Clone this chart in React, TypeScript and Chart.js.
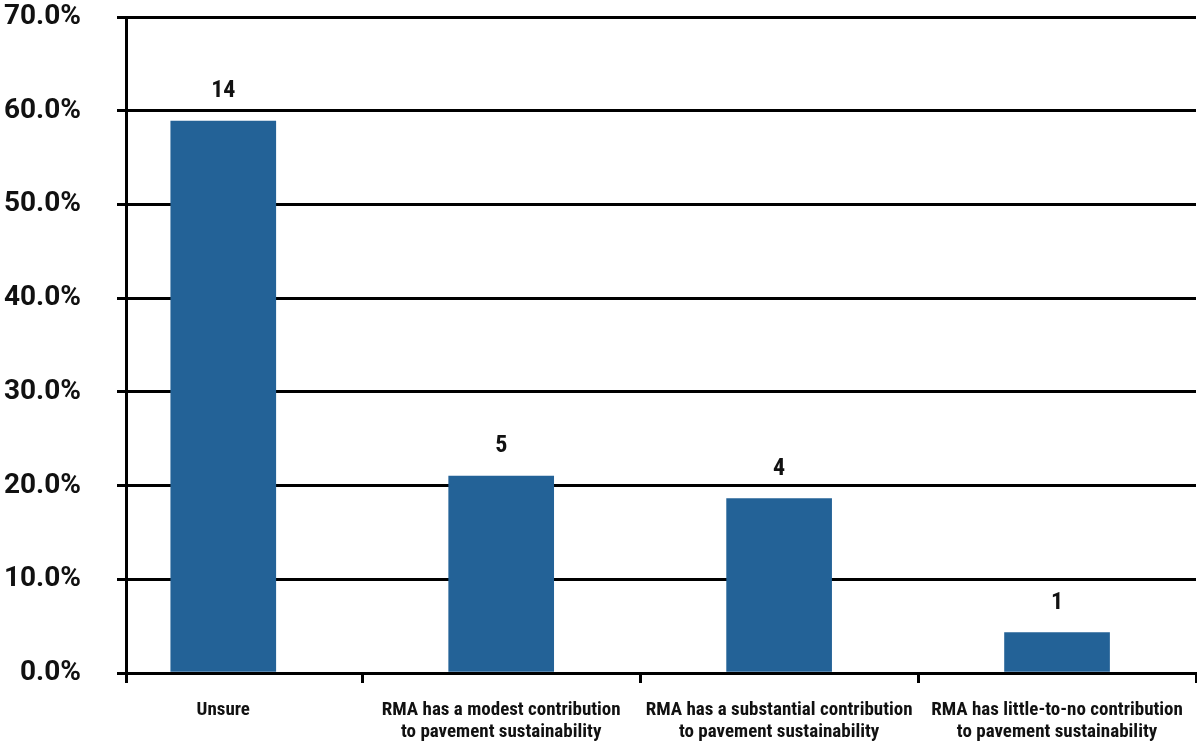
import React, { useEffect, useRef } from "react";
import { Chart, registerables } from "chart.js";

Chart.register(...registerables);

const categories: (string | string[])[] = [
  "Unsure",
  ["RMA has a modest contribution", "to pavement sustainability"],
  ["RMA has a substantial contribution", "to pavement sustainability"],
  ["RMA has little-to-no contribution", "to pavement sustainability"],
];
const percentValues = [58.9, 21.0, 18.6, 4.3];
const responseCounts = [14, 5, 4, 1];
const yTickValues = [0, 10, 20, 30, 40, 50, 60, 70];

const FONT = "'Roboto Condensed', 'Liberation Sans Narrow', Roboto, sans-serif";
const Y_FONT = "Roboto, sans-serif";
const BAR_COLOR = "#236297";

const countLabels = {
  id: "countLabels",
  afterDatasetsDraw(chart: any) {
    const ctx = chart.ctx;
    const meta = chart.getDatasetMeta(0);
    ctx.save();
    ctx.font = `bold 24px ${FONT}`;
    ctx.fillStyle = "#111";
    ctx.textAlign = "center";
    ctx.textBaseline = "alphabetic";
    meta.data.forEach((bar: any, i: number) => {
      ctx.fillText(String(responseCounts[i]), bar.x, bar.y - 24);
    });
    ctx.restore();
  },
};

export default function App() {
  const canvasRef = useRef<HTMLCanvasElement | null>(null);

  useEffect(() => {
    if (!canvasRef.current) return;
    const chart = new Chart(canvasRef.current, {
      type: "bar",
      data: {
        datasets: [
          {
            data: percentValues.map((v, i) => ({ x: i, y: v })),
            backgroundColor: BAR_COLOR,
            barThickness: 105,
          },
        ],
      },
      options: {
        animation: false,
        responsive: false,
        maintainAspectRatio: false,
        layout: { padding: { top: 17, right: 1, left: 0, bottom: 0 } },
        plugins: {
          legend: { display: false },
          tooltip: { enabled: false },
        },
        scales: {
          x: {
            type: "linear",
            offset: false,
            min: -0.35,
            max: 3.5,
            afterBuildTicks(scale: any) {
              scale.ticks = [-0.35, 0, 0.5, 1, 1.5, 2, 2.5, 3, 3.5].map((v) => ({ value: v }));
            },
            afterFit(scale: any) {
              scale.height = 69;
              scale.paddingLeft = 0;
              scale.paddingRight = 0;
            },
            ticks: {
              autoSkip: false,
              maxRotation: 0,
              minRotation: 0,
              padding: 17,
              color: "#111",
              font: { family: FONT, size: 19, weight: "bold", lineHeight: 1.12 },
              callback: (value: any) =>
                Number.isInteger(value) && value >= 0 ? categories[value] : "",
            },
            grid: {
              offset: false,
              drawOnChartArea: false,
              drawTicks: true,
              tickLength: 10,
              tickWidth: 3,
              tickColor: (ctx: any) =>
                ctx.tick && Number.isInteger(ctx.tick.value) ? "rgba(0,0,0,0)" : "#000",
            },
            border: { display: true, color: "#000", width: 3 },
          },
          y: {
            min: 0,
            max: 70,
            afterBuildTicks(scale: any) {
              scale.ticks = yTickValues.map((v) => ({ value: v }));
            },
            afterFit(scale: any) {
              scale.width = 126;
              scale.paddingTop = 0;
              scale.paddingBottom = 0;
            },
            ticks: {
              padding: 36,
              color: "#111",
              font: { family: Y_FONT, size: 28, weight: "bold" },
              callback: (value: any) => Number(value).toFixed(1) + "%",
            },
            grid: {
              color: "#000",
              lineWidth: 3,
              drawTicks: true,
              tickLength: 9,
            },
            border: { display: true, color: "#000", width: 3 },
          },
        },
      },
      plugins: [countLabels],
    });
    return () => chart.destroy();
  }, []);

  return (
    <div style={{ position: "absolute", left: 0, top: 0, width: 1197, height: 742, background: "#fff" }}>
      <canvas ref={canvasRef} width={1197} height={742} style={{ display: "block" }} />
    </div>
  );
}
